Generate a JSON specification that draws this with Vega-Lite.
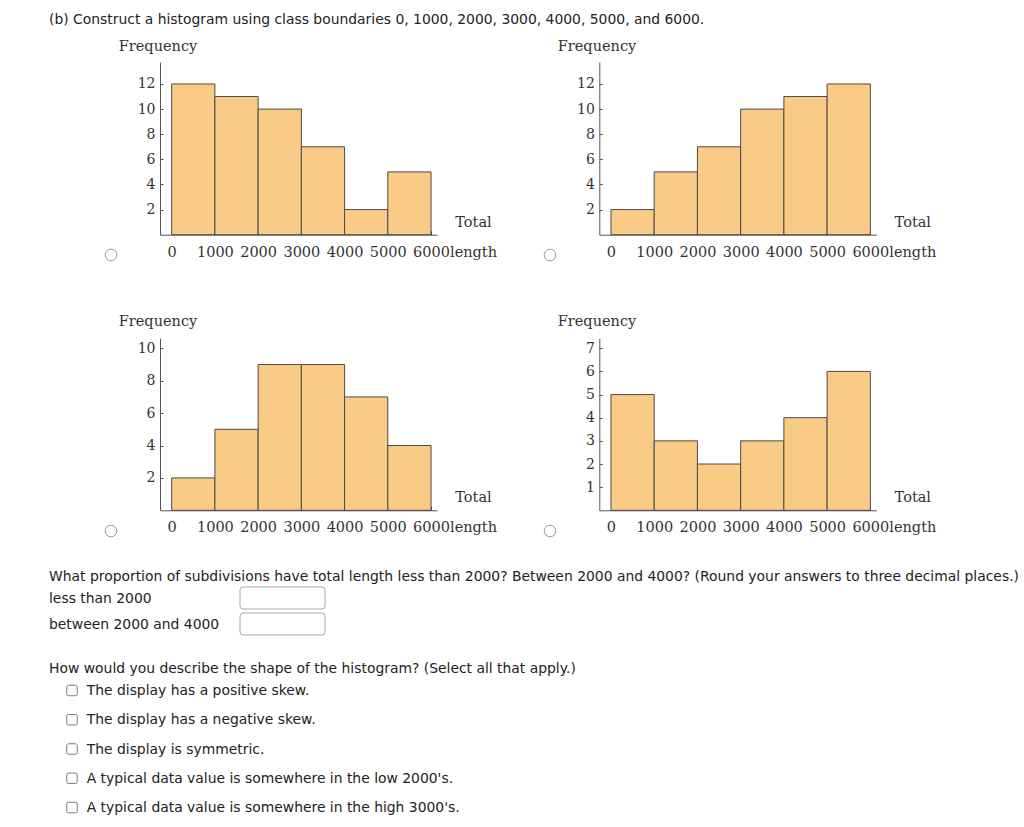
{
  "$schema": "https://vega.github.io/schema/vega-lite/v6.json",
  "width": 1024,
  "height": 827,
  "autosize": {"type": "none"},
  "padding": 0,
  "background": "white",
  "datasets": {
    "hist": [
      {"panel": "A", "lower": 0, "upper": 1000, "count": 12},
      {"panel": "A", "lower": 1000, "upper": 2000, "count": 11},
      {"panel": "A", "lower": 2000, "upper": 3000, "count": 10},
      {"panel": "A", "lower": 3000, "upper": 4000, "count": 7},
      {"panel": "A", "lower": 4000, "upper": 5000, "count": 2},
      {"panel": "A", "lower": 5000, "upper": 6000, "count": 5},
      {"panel": "B", "lower": 0, "upper": 1000, "count": 2},
      {"panel": "B", "lower": 1000, "upper": 2000, "count": 5},
      {"panel": "B", "lower": 2000, "upper": 3000, "count": 7},
      {"panel": "B", "lower": 3000, "upper": 4000, "count": 10},
      {"panel": "B", "lower": 4000, "upper": 5000, "count": 11},
      {"panel": "B", "lower": 5000, "upper": 6000, "count": 12},
      {"panel": "C", "lower": 0, "upper": 1000, "count": 2},
      {"panel": "C", "lower": 1000, "upper": 2000, "count": 5},
      {"panel": "C", "lower": 2000, "upper": 3000, "count": 9},
      {"panel": "C", "lower": 3000, "upper": 4000, "count": 9},
      {"panel": "C", "lower": 4000, "upper": 5000, "count": 7},
      {"panel": "C", "lower": 5000, "upper": 6000, "count": 4},
      {"panel": "D", "lower": 0, "upper": 1000, "count": 5},
      {"panel": "D", "lower": 1000, "upper": 2000, "count": 3},
      {"panel": "D", "lower": 2000, "upper": 3000, "count": 2},
      {"panel": "D", "lower": 3000, "upper": 4000, "count": 3},
      {"panel": "D", "lower": 4000, "upper": 5000, "count": 4},
      {"panel": "D", "lower": 5000, "upper": 6000, "count": 6}
    ],
    "page": [
      {"line": 1, "kind": "text", "text": "(b) Construct a histogram using class boundaries 0, 1000, 2000, 3000, 4000, 5000, and 6000."},
      {"line": 2, "kind": "text", "text": "What proportion of subdivisions have total length less than 2000? Between 2000 and 4000? (Round your answers to three decimal places.)"},
      {"line": 3, "kind": "field", "text": "less than 2000"},
      {"line": 4, "kind": "field", "text": "between 2000 and 4000"},
      {"line": 5, "kind": "text", "text": "How would you describe the shape of the histogram? (Select all that apply.)"},
      {"line": 6, "kind": "option", "text": "The display has a positive skew."},
      {"line": 7, "kind": "option", "text": "The display has a negative skew."},
      {"line": 8, "kind": "option", "text": "The display is symmetric."},
      {"line": 9, "kind": "option", "text": "A typical data value is somewhere in the low 2000's."},
      {"line": 10, "kind": "option", "text": "A typical data value is somewhere in the high 3000's."}
    ]
  },
  "config": {
    "view": {"stroke": null},
    "axis": {
      "grid": false,
      "domainColor": "#555555",
      "tickColor": "#555555",
      "labelColor": "#333333",
      "titleColor": "#333333",
      "labelFont": "DejaVu Serif",
      "titleFont": "DejaVu Serif",
      "titleFontWeight": "normal",
      "labelFontSize": 14,
      "titleFontSize": 14.5
    }
  },
  "resolve": {
    "scale": {"x": "independent", "y": "independent"},
    "axis": {"x": "independent", "y": "independent"}
  },
  "layer": [
    {
      "data": {"name": "hist"},
      "transform": [{"filter": "datum.panel === 'A'"}],
      "mark": {"type": "bar", "fill": "#FACB86", "stroke": "#4a4a4a", "strokeWidth": 1},
      "encoding": {
        "x": {"field": "lower", "type": "quantitative",
          "scale": {"domain": [-270, 6138], "range": [160, 437], "nice": false, "zero": false},
          "axis": {"orient": "bottom", "offset": -592.3, "values": [0, 1000, 2000, 3000, 4000, 5000, 6000], "format": "d", "tickSize": -4, "labelPadding": 14.5, "labelFontSize": 14.5, "labelOverlap": false, "labelFlush": false,
            "title": ["Total", "length"], "titleX": 473, "titleY": -19.7, "titleAlign": "center", "titleBaseline": "top", "titleLineHeight": 30.7, "titleAngle": 0}},
        "x2": {"field": "upper"},
        "y": {"field": "count", "type": "quantitative",
          "scale": {"domain": [0, 13.75], "range": [234.7, 62], "nice": false},
          "axis": {"orient": "left", "offset": -160, "values": [2, 4, 6, 8, 10, 12], "tickSize": -3, "labelPadding": 8, "labelOverlap": false, "labelFlush": false,
            "title": "Frequency", "titleAngle": 0, "titleX": -41.7, "titleY": 50.7, "titleAlign": "left", "titleBaseline": "alphabetic"}},
        "y2": {"datum": 0}
      }
    },
    {
      "data": {"name": "hist"},
      "transform": [{"filter": "datum.panel === 'B'"}],
      "mark": {"type": "bar", "fill": "#FACB86", "stroke": "#4a4a4a", "strokeWidth": 1},
      "encoding": {
        "x": {"field": "lower", "type": "quantitative",
          "scale": {"domain": [-270, 6138], "range": [599.3, 876.3], "nice": false, "zero": false},
          "axis": {"orient": "bottom", "offset": -592.3, "values": [0, 1000, 2000, 3000, 4000, 5000, 6000], "format": "d", "tickSize": -4, "labelPadding": 14.5, "labelFontSize": 14.5, "labelOverlap": false, "labelFlush": false,
            "title": ["Total", "length"], "titleX": 912.3, "titleY": -19.7, "titleAlign": "center", "titleBaseline": "top", "titleLineHeight": 30.7, "titleAngle": 0}},
        "x2": {"field": "upper"},
        "y": {"field": "count", "type": "quantitative",
          "scale": {"domain": [0, 13.75], "range": [234.7, 62], "nice": false},
          "axis": {"orient": "left", "offset": -599.3, "values": [2, 4, 6, 8, 10, 12], "tickSize": -3, "labelPadding": 8, "labelOverlap": false, "labelFlush": false,
            "title": "Frequency", "titleAngle": 0, "titleX": -42, "titleY": 50.7, "titleAlign": "left", "titleBaseline": "alphabetic"}},
        "y2": {"datum": 0}
      }
    },
    {
      "data": {"name": "hist"},
      "transform": [{"filter": "datum.panel === 'C'"}],
      "mark": {"type": "bar", "fill": "#FACB86", "stroke": "#4a4a4a", "strokeWidth": 1},
      "encoding": {
        "x": {"field": "lower", "type": "quantitative",
          "scale": {"domain": [-270, 6138], "range": [160, 437], "nice": false, "zero": false},
          "axis": {"orient": "bottom", "offset": -316.7, "values": [0, 1000, 2000, 3000, 4000, 5000, 6000], "format": "d", "tickSize": -4, "labelPadding": 14.5, "labelFontSize": 14.5, "labelOverlap": false, "labelFlush": false,
            "title": ["Total", "length"], "titleX": 473, "titleY": -20.3, "titleAlign": "center", "titleBaseline": "top", "titleLineHeight": 30.7, "titleAngle": 0}},
        "x2": {"field": "upper"},
        "y": {"field": "count", "type": "quantitative",
          "scale": {"domain": [0, 10.62], "range": [510.3, 338.3], "nice": false},
          "axis": {"orient": "left", "offset": -160, "values": [2, 4, 6, 8, 10], "tickSize": -3, "labelPadding": 8, "labelOverlap": false, "labelFlush": false,
            "title": "Frequency", "titleAngle": 0, "titleX": -41.7, "titleY": 325.7, "titleAlign": "left", "titleBaseline": "alphabetic"}},
        "y2": {"datum": 0}
      }
    },
    {
      "data": {"name": "hist"},
      "transform": [{"filter": "datum.panel === 'D'"}],
      "mark": {"type": "bar", "fill": "#FACB86", "stroke": "#4a4a4a", "strokeWidth": 1},
      "encoding": {
        "x": {"field": "lower", "type": "quantitative",
          "scale": {"domain": [-270, 6138], "range": [599.3, 876.3], "nice": false, "zero": false},
          "axis": {"orient": "bottom", "offset": -316.7, "values": [0, 1000, 2000, 3000, 4000, 5000, 6000], "format": "d", "tickSize": -4, "labelPadding": 14.5, "labelFontSize": 14.5, "labelOverlap": false, "labelFlush": false,
            "title": ["Total", "length"], "titleX": 912.3, "titleY": -20.3, "titleAlign": "center", "titleBaseline": "top", "titleLineHeight": 30.7, "titleAngle": 0}},
        "x2": {"field": "upper"},
        "y": {"field": "count", "type": "quantitative",
          "scale": {"domain": [0, 7.43], "range": [510.3, 338.3], "nice": false},
          "axis": {"orient": "left", "offset": -599.3, "values": [1, 2, 3, 4, 5, 6, 7], "tickSize": -3, "labelPadding": 8, "labelOverlap": false, "labelFlush": false,
            "title": "Frequency", "titleAngle": 0, "titleX": -42, "titleY": 325.7, "titleAlign": "left", "titleBaseline": "alphabetic"}},
        "y2": {"datum": 0}
      }
    },
    {
      "data": {"values": [{"choice": "A"}, {"choice": "B"}]},
      "mark": {"type": "point", "shape": "circle", "size": 135, "filled": false, "stroke": "#9a9a9a", "strokeWidth": 1, "opacity": 1},
      "encoding": {
        "x": {"field": "choice", "type": "nominal", "scale": {"type": "point", "domain": ["A", "B"], "range": [111, 550], "padding": 0}, "axis": null},
        "y": {"field": "choice", "type": "nominal", "scale": {"type": "point", "domain": ["A", "B"], "range": [255, 255], "padding": 0}, "axis": null}
      }
    },
    {
      "data": {"values": [{"choice": "C"}, {"choice": "D"}]},
      "mark": {"type": "point", "shape": "circle", "size": 135, "filled": false, "stroke": "#9a9a9a", "strokeWidth": 1, "opacity": 1},
      "encoding": {
        "x": {"field": "choice", "type": "nominal", "scale": {"type": "point", "domain": ["C", "D"], "range": [111, 550], "padding": 0}, "axis": null},
        "y": {"field": "choice", "type": "nominal", "scale": {"type": "point", "domain": ["C", "D"], "range": [531, 531], "padding": 0}, "axis": null}
      }
    },
    {
      "data": {"name": "page"},
      "transform": [{"filter": "datum.kind !== 'option'"}],
      "mark": {"type": "text", "align": "left", "baseline": "middle", "font": "DejaVu Sans", "fontSize": 13.9, "fill": "#222222"},
      "encoding": {
        "x": {"field": "kind", "type": "nominal", "scale": {"type": "point", "domain": ["text", "field"], "range": [49, 49], "padding": 0}, "axis": null},
        "y": {"field": "line", "type": "quantitative", "scale": {"domain": [1, 2, 3, 4, 5, 6, 7, 8, 9, 10], "range": [19.5, 577, 599, 625, 669, 691, 720.25, 749.5, 778.75, 808], "nice": false, "zero": false}, "axis": null},
        "text": {"field": "text"}
      }
    },
    {
      "data": {"name": "page"},
      "transform": [{"filter": "datum.kind === 'option'"}],
      "mark": {"type": "text", "align": "left", "baseline": "middle", "font": "DejaVu Sans", "fontSize": 13.9, "fill": "#222222"},
      "encoding": {
        "x": {"field": "kind", "type": "nominal", "scale": {"type": "point", "domain": ["option"], "range": [86.7, 86.7], "padding": 0}, "axis": null},
        "y": {"field": "line", "type": "quantitative", "scale": {"domain": [1, 2, 3, 4, 5, 6, 7, 8, 9, 10], "range": [19.5, 577, 599, 625, 669, 691, 720.25, 749.5, 778.75, 808], "nice": false, "zero": false}, "axis": null},
        "text": {"field": "text"}
      }
    },
    {
      "data": {"name": "page"},
      "transform": [{"filter": "datum.kind === 'option'"}],
      "mark": {"type": "point", "shape": "M -0.64 -1 L 0.64 -1 Q 1 -1 1 -0.64 L 1 0.64 Q 1 1 0.64 1 L -0.64 1 Q -1 1 -1 0.64 L -1 -0.64 Q -1 -1 -0.64 -1 Z", "size": 110, "filled": false, "stroke": "#7a7a7a", "strokeWidth": 1, "opacity": 1},
      "encoding": {
        "x": {"field": "kind", "type": "nominal", "scale": {"type": "point", "domain": ["option"], "range": [72, 72], "padding": 0}, "axis": null},
        "y": {"field": "line", "type": "quantitative", "scale": {"domain": [1, 2, 3, 4, 5, 6, 7, 8, 9, 10], "range": [19.5, 577, 599, 625, 669, 690.5, 719.75, 749, 778.25, 807.5], "nice": false, "zero": false}, "axis": null}
      }
    },
    {
      "data": {"name": "page"},
      "transform": [{"filter": "datum.kind === 'field'"}],
      "mark": {"type": "point", "shape": "M -0.929 -0.259 L 0.929 -0.259 Q 1 -0.259 1 -0.188 L 1 0.188 Q 1 0.259 0.929 0.259 L -0.929 0.259 Q -1 0.259 -1 0.188 L -1 -0.188 Q -1 -0.259 -0.929 -0.259 Z", "size": 7225, "filled": false, "stroke": "#aaaaaa", "strokeWidth": 1, "opacity": 1},
      "encoding": {
        "x": {"field": "kind", "type": "nominal", "scale": {"type": "point", "domain": ["field"], "range": [282.5, 282.5], "padding": 0}, "axis": null},
        "y": {"field": "line", "type": "quantitative", "scale": {"domain": [1, 2, 3, 4, 5, 6, 7, 8, 9, 10], "range": [19.5, 577, 598, 624, 669, 691, 720.25, 749.5, 778.75, 808], "nice": false, "zero": false}, "axis": null}
      }
    }
  ]
}
